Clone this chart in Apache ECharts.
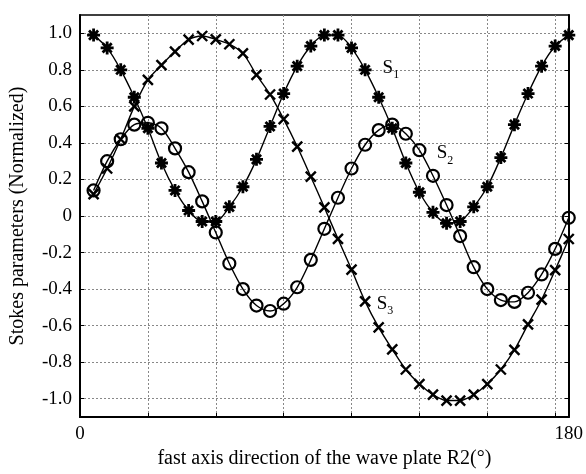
<!DOCTYPE html>
<html>
<head>
<meta charset="utf-8">
<script src="https://cdn.jsdelivr.net/npm/echarts@6/dist/echarts.min.js"></script>
<style>
    html, body { margin: 0; padding: 0; background: #fff; }
    #chart { width: 586px; height: 474px; }
</style>
</head>
<body>
<div id="chart"></div>
<script>
    // angle of the fast axis (deg)
    var angles = [5, 10, 15, 20, 25, 30, 35, 40, 45, 50, 55, 60, 65, 70, 75, 80, 85, 90,
        95, 100, 105, 110, 115, 120, 125, 130, 135, 140, 145, 150, 155, 160, 165, 170, 175, 180];
    var s1 = [0.99, 0.92, 0.80, 0.65, 0.48, 0.29, 0.14, 0.03, -0.03, -0.03, 0.05, 0.16, 0.31, 0.49, 0.67, 0.82, 0.93, 0.99,
        0.99, 0.92, 0.80, 0.65, 0.48, 0.29, 0.13, 0.02, -0.04, -0.03, 0.05, 0.16, 0.32, 0.50, 0.67, 0.82, 0.93, 0.99];
    var s2 = [0.14, 0.30, 0.42, 0.50, 0.51, 0.48, 0.37, 0.24, 0.08, -0.09, -0.26, -0.40, -0.49, -0.52, -0.48, -0.39, -0.24, -0.07,
        0.10, 0.26, 0.39, 0.47, 0.50, 0.45, 0.36, 0.22, 0.06, -0.11, -0.28, -0.40, -0.46, -0.47, -0.42, -0.32, -0.18, -0.01];
    var s3 = [0.12, 0.26, 0.42, 0.60, 0.745, 0.826, 0.90, 0.965, 0.985, 0.967, 0.94, 0.89, 0.772, 0.665, 0.53, 0.38, 0.215, 0.047,
        -0.125, -0.293, -0.467, -0.61, -0.73, -0.84, -0.92, -0.978, -1.01, -1.01, -0.978, -0.92, -0.84, -0.733, -0.593, -0.458, -0.296, -0.126];
    var yTicks = [-1.0, -0.8, -0.6, -0.4, -0.2, 0, 0.2, 0.4, 0.6, 0.8, 1.0];
    var xLabels = [0, 180];
    // where the S1/S2/S3 tags sit, in data units
    var tagPos = {S1: [114.5, 0.80], S2: [134.4, 0.334], S3: [112.3, -0.49]};

    var font = 'Liberation Serif, Times New Roman, serif';
    var starPath = 'path://M6,0L6,12M0,6L12,6M1.8,1.8L10.2,10.2M10.2,1.8L1.8,10.2';
    var crossPath = 'path://M0,0L10,10M10,0L0,10';

    function pairs(ys) {
        var out = [];
        for (var i = 0; i < angles.length; i++) {
            out.push([angles[i], ys[i]]);
        }
        return out;
    }

    function tag(name, sub, pos) {
        return {
            symbol: 'circle',
            symbolSize: 0,
            silent: true,
            data: [{
                coord: pos,
                label: {
                    show: true,
                    position: 'inside',
                    formatter: '{s|' + name + '}{sub|' + sub + '}',
                    rich: {
                        s: {fontFamily: font, fontSize: 19, color: '#000', padding: [0, 0, 4, 0], verticalAlign: 'bottom'},
                        sub: {fontFamily: font, fontSize: 12, color: '#000', verticalAlign: 'bottom'}
                    }
                }
            }]
        };
    }

    function curve(name, ys, symbol, size, lineW, tagData) {
        return {
            name: name,
            type: 'line',
            data: pairs(ys),
            smooth: 0.3,
            symbol: symbol,
            symbolSize: size,
            showAllSymbol: true,
            lineStyle: {color: '#000', width: 1.4},
            itemStyle: {color: 'transparent', borderColor: '#000', borderWidth: lineW},
            emphasis: {disabled: true},
            markPoint: tagData,
            z: 3
        };
    }

    var option = {
        animation: false,
        backgroundColor: '#fff',
        grid: {
            left: 80, right: 17, top: 15, bottom: 50,
            show: true, borderColor: '#000', borderWidth: 1.5, backgroundColor: 'transparent'
        },
        xAxis: [{
            type: 'value',
            min: 0, max: 180, interval: 25,
            name: 'fast axis direction of the wave plate R2(°)',
            nameLocation: 'middle',
            nameGap: 32,
            nameTextStyle: {fontFamily: font, fontSize: 20, color: '#000'},
            axisLine: {onZero: false, lineStyle: {color: '#000', width: 2}},
            axisTick: {inside: true, length: 4, lineStyle: {color: '#000', width: 1}},
            axisLabel: {
                fontFamily: font, fontSize: 19, color: '#000', margin: 8,
                showMinLabel: true, showMaxLabel: true,
                formatter: function (v) { return xLabels.indexOf(v) >= 0 ? String(v) : ''; }
            },
            splitLine: {show: true, lineStyle: {color: '#888', width: 1, type: [2, 2]}}
        }],
        yAxis: [{
            type: 'value',
            min: -1.1, max: 1.1,
            name: 'Stokes parameters (Normalized)',
            nameLocation: 'middle',
            nameGap: 52,
            nameTextStyle: {fontFamily: font, fontSize: 20, color: '#000'},
            axisLine: {onZero: false, lineStyle: {color: '#000', width: 2}},
            axisTick: {inside: true, length: 4, customValues: yTicks, lineStyle: {color: '#000', width: 1}},
            axisLabel: {
                fontFamily: font, fontSize: 19, color: '#000', margin: 8,
                customValues: yTicks,
                formatter: function (v) { return Math.abs(v) < 1e-9 ? '0' : v.toFixed(1); }
            },
            splitLine: {show: true, lineStyle: {color: '#888', width: 1, type: [2, 2]}}
        }, {
            type: 'value',
            position: 'right',
            min: -1.1, max: 1.1,
            axisLine: {show: true, onZero: false, lineStyle: {color: '#000', width: 2}},
            axisTick: {inside: true, length: 4, customValues: yTicks, lineStyle: {color: '#000', width: 1}},
            axisLabel: {show: false},
            splitLine: {show: false}
        }],
        series: [
            curve('S1', s1, starPath, 13, 2.8, tag('S', '1', tagPos.S1)),
            curve('S2', s2, 'circle', 12, 2.2, tag('S', '2', tagPos.S2)),
            curve('S3', s3, crossPath, 10, 2.4, tag('S', '3', tagPos.S3))
        ]
    };

    var chart = echarts.init(document.getElementById('chart'), null, {renderer: 'canvas'});
    chart.setOption(option);
</script>
</body>
</html>
